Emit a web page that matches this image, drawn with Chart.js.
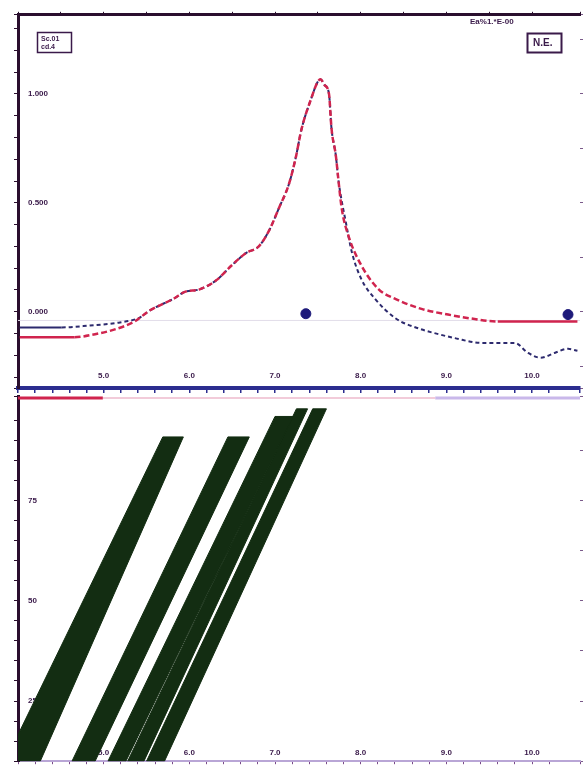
<!DOCTYPE html>
<html>
<head>
<meta charset="utf-8">
<script src="https://cdn.jsdelivr.net/npm/chart.js@4.4.1/dist/chart.umd.min.js"></script>
<style>
  html, body { margin: 0; padding: 0; background: #fff; }
  #wrap { position: relative; width: 587px; height: 776px; }
  #wrap canvas { position: absolute; left: 0; top: 0; filter: blur(0.45px); }
</style>
</head>
<body>
<div id="wrap">
  <canvas id="chart_top" width="587" height="776"></canvas>
  <canvas id="chart_bottom" width="587" height="776"></canvas>
</div>
<script>
// shared x axis
const xMin = 4.0, xMax = 10.56;
const xTickValues = [5, 6, 7, 8, 9, 10];
const topXLabels = ['5.0', '6.0', '7.0', '8.0', '9.0', '10.0'];
const bottomXLabels = ['5.0', '6.0', '7.0', '8.0', '9.0', '10.0'];

// top panel: spectra
const redX = [4.02,4.66,4.90,5.13,5.36,5.53,5.83,5.94,6.12,6.31,6.50,6.66,6.81,6.93,7.05,7.16,7.24,7.31,7.43,7.49,7.53,7.58,7.63,7.66,7.71,7.74,7.78,7.86,8.01,8.21,8.41,8.71,9.02,9.29,9.60,10.07,10.53];
const redY = [-0.117,-0.117,-0.103,-0.081,-0.045,0.004,0.063,0.090,0.103,0.143,0.215,0.269,0.300,0.372,0.480,0.583,0.704,0.839,0.987,1.049,1.067,1.040,1.000,0.839,0.717,0.605,0.471,0.345,0.211,0.103,0.058,0.013,-0.013,-0.031,-0.045,-0.045,-0.045];
const blueX = [4.02,4.51,4.84,5.19,5.42,5.53,5.83,5.94,6.12,6.31,6.50,6.66,6.81,6.93,7.05,7.16,7.24,7.31,7.43,7.49,7.53,7.58,7.63,7.66,7.71,7.74,7.83,7.90,8.01,8.17,8.41,8.67,8.91,9.10,9.41,9.80,9.95,10.10,10.27,10.42,10.53];
const blueY = [-0.072,-0.072,-0.063,-0.049,-0.027,0.004,0.063,0.090,0.103,0.143,0.215,0.269,0.300,0.372,0.480,0.583,0.704,0.839,0.987,1.049,1.067,1.040,1.000,0.839,0.717,0.605,0.404,0.269,0.148,0.058,-0.031,-0.076,-0.103,-0.121,-0.143,-0.143,-0.188,-0.211,-0.188,-0.170,-0.179];
const markerX = [7.36, 10.42];
const markerY = [-0.009, -0.013];
const baselineY = -0.04;
const topYMin = -0.35, topYMax = 1.363;
const topYTicks = [0, 0.5, 1];
const topYLabels = ['0.000', '0.500', '1.000'];

// bottom panel: bands
const bandBottomLeft  = [3.85, 4.63, 5.05, 5.28, 5.50];
const bandBottomRight = [4.26, 4.90, 5.26, 5.47, 5.71];
const bandTopLeft     = [5.69, 6.45, 7.00, 7.25, 7.44];
const bandTopRight    = [5.93, 6.70, 7.21, 7.38, 7.60];
const bandTop         = [90.8, 90.8, 95.9, 97.8, 97.8];
const bandBase = 10;
const bottomYMin = 10, bottomYMax = 101;
const bottomYTicks = [25, 50, 75];
const bottomYLabels = ['25', '50', '75'];
const stripStart = [4.0, 4.99, 8.87];
const stripEnd   = [4.99, 8.87, 10.56];
const stripColors = ['#d0244e', '#f2cbd9', '#c9b8ea'];
const stripWidths = [3, 2, 3];
const stripY = 100.5;

const ink = '#3a1a4a';
const axisDark = '#2a0f2e';
const tickFont = { family: 'Liberation Sans', size: 8, weight: 'bold' };

const pick = (values, labels) => (v) => {
    const i = values.findIndex(t => Math.abs(t - v) < 1e-6);
    return i >= 0 ? labels[i] : '';
};
const zeroH = (s) => { s.height = 0; };
const zeroW = (s) => { s.width = 0; };

const notes = {
    id: 'notes',
    afterDraw(chart) {
        const ctx = chart.ctx;
        ctx.save();
        ctx.strokeStyle = ink;
        ctx.fillStyle = ink;
        ctx.lineWidth = 1.5;
        ctx.strokeRect(37.5, 32.5, 34, 20);
        ctx.font = 'bold 7px "Liberation Sans"';
        ctx.textBaseline = 'middle';
        ctx.fillText('Sc.01', 41, 39);
        ctx.fillText('cd.4', 41, 47);
        ctx.font = 'bold 8px "Liberation Sans"';
        ctx.fillText('Ea%1.*E-00', 470, 22);
        ctx.lineWidth = 2;
        ctx.strokeRect(527.5, 33.5, 34, 19);
        ctx.font = 'bold 10px "Liberation Sans"';
        ctx.fillText('N.E.', 533, 43);
        ctx.restore();
    }
};

const toPoints = (xs, ys) => xs.map((x, i) => ({ x: x, y: ys[i] }));

const topChart = new Chart(document.getElementById('chart_top').getContext('2d'), {
    type: 'line',
    data: {
        datasets: [
            {
                data: toPoints(markerX, markerY),
                showLine: false,
                pointRadius: 5,
                pointBackgroundColor: '#1e1a7a',
                pointBorderColor: '#1e1a7a'
            },
            {
                data: toPoints(redX, redY),
                borderColor: '#d0244e',
                borderWidth: 2.5,
                pointRadius: 0,
                cubicInterpolationMode: 'monotone',
                segment: {
                    borderDash: ctx => (ctx.p0.parsed.x < 4.6 || ctx.p0.parsed.x >= 9.6) ? [] : [6, 3]
                }
            },
            {
                data: toPoints(blueX, blueY),
                borderColor: '#2d2a6e',
                borderWidth: 2,
                pointRadius: 0,
                cubicInterpolationMode: 'monotone',
                segment: {
                    borderDash: ctx => ctx.p0.parsed.x < 4.5 ? [] : [4, 3]
                }
            },
            {
                data: [{ x: xMin, y: baselineY }, { x: xMax, y: baselineY }],
                borderColor: '#e2dde9',
                borderWidth: 1,
                pointRadius: 0
            }
        ]
    },
    options: {
        responsive: false,
        animation: false,
        events: [],
        layout: { padding: { left: 18, right: 7, top: 6, bottom: 388 } },
        plugins: { legend: { display: false }, tooltip: { enabled: false } },
        scales: {
            x: {
                type: 'linear', position: 'bottom', min: xMin, max: xMax,
                afterFit: zeroH,
                border: { color: '#2b2d8f', width: 4 },
                grid: { drawOnChartArea: false, tickLength: 5, color: '#2b2d8f', lineWidth: 1.5 },
                ticks: { stepSize: 0.2, autoSkip: false, maxRotation: 0, mirror: true, padding: 7, color: ink, font: tickFont,
                         callback: pick(xTickValues, topXLabels) }
            },
            xTop: {
                type: 'linear', position: 'top', min: xMin, max: xMax,
                afterFit: zeroH,
                border: { color: axisDark, width: 3 },
                grid: { drawOnChartArea: false, tickLength: 3, color: axisDark },
                ticks: { stepSize: 0.5, display: false }
            },
            y: {
                type: 'linear', position: 'left', min: topYMin, max: topYMax,
                afterFit: zeroW,
                border: { color: axisDark, width: 3 },
                grid: { drawOnChartArea: false, tickLength: 4, color: axisDark },
                ticks: { stepSize: 0.1, autoSkip: false, mirror: true, padding: 10, color: ink, font: tickFont,
                         callback: pick(topYTicks, topYLabels) }
            },
            yRight: {
                type: 'linear', position: 'right', min: topYMin, max: topYMax,
                afterFit: zeroW,
                border: { display: false },
                grid: { drawOnChartArea: false, tickLength: 3, color: '#7a5a8a' },
                ticks: { stepSize: 0.25, display: false }
            }
        }
    },
    plugins: [notes]
});

const green = '#132d12';
const bandSets = bandTop.map((top, i) => ({
    data: [
        { x: bandBottomLeft[i], y: bandBase },
        { x: bandBottomRight[i], y: bandBase },
        { x: bandTopRight[i], y: top },
        { x: bandTopLeft[i], y: top },
        { x: bandBottomLeft[i], y: bandBase }
    ],
    fill: 'shape',
    backgroundColor: green,
    borderColor: green,
    borderWidth: 1,
    pointRadius: 0
}));
const stripSets = stripStart.map((s, i) => ({
    data: [{ x: s, y: stripY }, { x: stripEnd[i], y: stripY }],
    borderColor: stripColors[i],
    borderWidth: stripWidths[i],
    pointRadius: 0
}));

const bottomChart = new Chart(document.getElementById('chart_bottom').getContext('2d'), {
    type: 'line',
    data: { datasets: stripSets.concat(bandSets) },
    options: {
        responsive: false,
        animation: false,
        events: [],
        layout: { padding: { left: 18, right: 7, top: 396, bottom: 5 } },
        plugins: { legend: { display: false }, tooltip: { enabled: false } },
        scales: {
            x: {
                type: 'linear', position: 'bottom', min: xMin, max: xMax,
                afterFit: zeroH,
                border: { color: '#b9a6d6', width: 2 },
                grid: { drawOnChartArea: false, tickLength: 3, color: '#7a4a8a' },
                ticks: { stepSize: 0.2, autoSkip: false, maxRotation: 0, mirror: true, padding: 4, color: ink, font: tickFont,
                         callback: pick(xTickValues, bottomXLabels) }
            },
            y: {
                type: 'linear', position: 'left', min: bottomYMin, max: bottomYMax,
                afterFit: zeroW,
                border: { color: axisDark, width: 3 },
                grid: { drawOnChartArea: false, tickLength: 4, color: axisDark },
                ticks: { stepSize: 5, autoSkip: false, mirror: true, padding: 10, color: ink, font: tickFont,
                         callback: pick(bottomYTicks, bottomYLabels) }
            },
            yRight: {
                type: 'linear', position: 'right', min: bottomYMin, max: bottomYMax,
                afterFit: zeroW,
                border: { display: false },
                grid: { drawOnChartArea: false, tickLength: 3, color: '#7a5a8a' },
                ticks: { stepSize: 12.5, display: false }
            }
        }
    }
});
</script>
</body>
</html>
